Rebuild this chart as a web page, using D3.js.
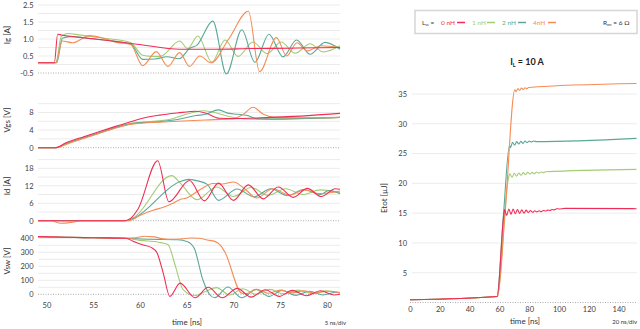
<!DOCTYPE html>
<html><head><meta charset="utf-8">
<script src="https://cdn.jsdelivr.net/npm/d3@7"></script>
<style>body{margin:0;background:#fff}svg{display:block}text{font-family:Lato,"Open Sans",sans-serif}</style>
</head><body><svg id="c" width="640" height="329"></svg>
<script>
// ---------- DATA ----------
const seriesNames = ["0 nH","1 nH","2 nH","4nH"];
const seriesColors = ["#ef2d56","#a3cc73","#5aa898","#f68c55"];

const xLeftTicks = [50,55,60,65,70,75,80];
const igTicks = [-0.5,0.5,1.0,1.5,2.5];
const igTickLabels = ["-0.5","0.5","1.0","1.5","2.5"];
const igGrid = [-0.5,0,0.5,0.75,1.0,1.25,1.5,2.0,2.5];
const vgsTicks = [0,4,8];
const vgsGrid = [2,4,6,8,10];
const idTicks = [0,6,12,18];
const idGrid = [3,6,9,12,15,18,21];
const vswTicks = [0,100,200,300,400];
const vswGrid = [50,100,150,200,250,300,350,400];
const eTicks = [5,10,15,20,25,30,35];
const eXTicks = [0,20,40,60,80,100,120,140];

// Ig [A]
const ig0 = [[49.1,0.1],[50.85,0.1],[51.2,1.14],[51.6,1.12],[55.3,1.0],[59.9,0.84],[64.25,0.70],[68,0.70],[72,0.72],[76,0.73],[81.4,0.75]];
const ig1 = [[49.1,0.1],[51.0,0.1],[51.6,1.08],[52.3,1.16],[53.5,1.12],[56,1.03],[59,0.9],[60.3,0.52],[61.2,0.48],[62.2,0.48],[64.25,0.94],[65.1,0.72],[66.2,1.09],[67.7,0.13],[69.1,0.97],[70.5,0.48],[72.1,0.91],[73.6,0.57],[75.1,0.91],[76.6,0.58],[78.2,0.86],[79.6,0.62],[81.4,0.8]];
const ig2 = [[49.1,0.1],[51.1,0.1],[51.7,1.02],[52.5,1.07],[55,1.0],[59,0.86],[60.3,0.3],[61.6,0.32],[62.9,0.46],[64.2,0.34],[65.3,0.72],[66.1,0.82],[67.8,1.55],[69.25,-0.56],[70.9,1.27],[72.3,0.13],[73.8,1.14],[75.3,0.45],[76.75,0.97],[78.2,0.55],[79.8,0.9],[81.4,0.7]];
const ig3 = [[49.1,0.1],[51.0,0.1],[51.7,0.94],[52.8,0.89],[54.6,1.1],[56,1.03],[57.5,0.9],[59,0.84],[60.3,-0.07],[61.75,0.63],[63.0,-0.11],[64.25,0.6],[65.3,-0.11],[66.4,0.5],[67.6,0.1],[69.5,1.0],[71.6,2.13],[72.8,-0.42],[74.6,1.04],[75.7,0.5],[76.8,0.89],[77.9,0.65],[79.3,0.8],[81.4,0.75]];

// Vgs [V]
const vgs0 = [[49.1,0],[50.9,0],[52.1,1.1],[54,2.5],[55.7,3.7],[57.5,4.9],[59,5.9],[60.3,6.7],[62.1,7.4],[64,7.9],[66,8.3],[67,7.9],[68.5,6.7],[70,6.6],[74,6.9],[78,7.3],[81.4,7.8]];
const vgs1 = [[49.1,0],[51.0,0],[52.1,0.9],[55.7,3.4],[59.2,5.6],[62,6.1],[63.5,6.6],[64.8,7.5],[66.8,8.4],[68.2,7.9],[69.5,7.1],[70.5,6.7],[72,6.5],[81.4,6.9]];
const vgs2 = [[49.1,0],[51.0,0],[52.1,0.9],[55.7,3.4],[59.2,5.5],[62,5.9],[64,6.4],[66,7.3],[67,7.6],[68.4,8.6],[69.5,7.8],[70.5,7.6],[71.5,7.3],[72.5,6.6],[74,6.5],[81.4,6.9]];
const vgs3 = [[49.1,0],[51.1,0],[52.2,0.8],[55.7,3.3],[59.3,5.4],[63,5.9],[67,6.3],[70,6.6],[71,7.5],[72.1,9.2],[73.2,7.6],[74.5,6.9],[77,6.8],[81.4,6.9]];

// Id [A]
const id0 = [[49.1,0],[58.3,0],[59.0,0.8],[59.8,4],[61.9,20.6],[63.1,6.5],[65.3,13.8],[66.9,6.8],[68.4,12.9],[70.0,7.0],[71.6,12.3],[73.2,7.5],[74.8,11.6],[76.4,8.0],[77.9,11.1],[79.4,8.3],[80.9,11.0],[81.4,10.8]];
const id1 = [[49.1,0],[58.5,0],[59.3,1],[63.4,15.5],[64.3,13],[66.1,7.2],[68.2,11.6],[70.0,8.3],[71.9,11.4],[73.7,8.7],[75.6,11],[77.4,9.0],[79.3,10.6],[81.4,9.6]];
const id2 = [[49.1,0],[58.5,0],[59.3,0.8],[64.25,13.4],[65.2,14.2],[66.3,13.6],[67.2,12.5],[68.4,7.0],[70.4,10.9],[72.2,8.2],[74.0,11.0],[75.8,8.6],[77.5,10.7],[79.3,9.0],[80.2,10.4],[81.4,9.3]];
const id3 = [[49.1,0],[50.5,0],[51.5,-0.9],[52.8,-0.5],[53.8,0],[58.8,0],[60,1.8],[61.4,3.6],[62.5,4.6],[63.4,5.8],[64.3,7.3],[65,7.8],[66.5,10.8],[67.8,12.8],[68.8,12.6],[70,13.3],[71.2,11],[72.5,7.8],[74.2,11],[76,8.8],[77.6,10.6],[79.2,9.3],[81.4,10.2]];

// Vsw [V]
const vsw0 = [[49.1,412],[52,408],[55,404],[58.5,400],[59.3,378],[60.2,355],[61.2,335],[61.8,300],[62.5,150],[63.2,-15],[64.3,80],[65.9,-25],[67.3,50],[68.8,-25],[70.4,42],[71.9,-20],[73.4,33],[74.9,-15],[76.3,28],[77.8,-10],[79.3,25],[80.8,-5],[81.4,0]];
const vsw1 = [[49.1,412],[52,408],[55,404],[58.5,400],[60,385],[62,372],[63,355],[63.8,200],[64.6,35],[65.9,-10],[67,20],[68.2,48],[69.6,-5],[71.0,40],[72.4,0],[73.9,35],[75.4,3],[76.9,30],[78.4,5],[79.9,25],[81.4,10]];
const vsw2 = [[49.1,412],[52,408],[55,404],[58.5,400],[61,393],[64,390],[65.1,376],[65.8,330],[66.75,100],[67.5,-5],[68,-25],[69.4,52],[70.9,-25],[72.4,35],[73.8,-15],[75.2,28],[76.7,-8],[78.1,22],[79.6,-5],[81.0,15],[81.4,12]];
const vsw3 = [[49.1,412],[52,408],[55,404],[58.5,400],[59.5,403],[60.5,415],[61.5,410],[62.5,396],[63.5,392],[64.5,396],[65.5,402],[66.3,400],[67.2,388],[68,378],[68.6,352],[69.1,300],[70.9,8],[71.4,5],[72.5,35],[73.7,8],[75,30],[76.3,10],[77.5,25],[78.7,8],[80,22],[81.4,12]];

// Etot [uJ]
const e0 = [[0,0.45],[58.5,1.0],[62.8,14.4],[63.5,15.6],[64.9,14.6],[66.3,15.7],[67.8,14.8],[69.2,15.7],[70.7,14.9],[72.1,15.6],[73.6,14.95],[75.0,15.55],[76.5,15.0],[77.9,15.5],[79.4,15.1],[80.8,15.45],[82.3,15.15],[83.7,15.4],[85.2,15.2],[86.6,15.4],[88.1,15.25],[89.5,15.45],[91,15.35],[92.4,15.5],[93.9,15.45],[95.3,15.6],[96.8,15.55],[98.5,15.75],[100,15.7],[104,15.8],[152,15.75]];
const e1 = [[0,0.45],[58.4,1.0],[66.0,20.8],[67.0,21.6],[68.5,21.0],[70,21.7],[71.5,21.2],[73,21.75],[74.5,21.35],[76,21.8],[77.5,21.45],[79,21.85],[80.5,21.55],[82,21.85],[83.5,21.6],[85,21.9],[86.5,21.7],[88,21.9],[89.5,21.8],[91,21.95],[152,22.35]];
const e2 = [[0,0.45],[58.3,1.0],[62.7,14.7],[66.8,26.4],[67.5,26.0],[68.8,26.9],[70.2,26.4],[71.6,27.0],[73,26.6],[74.4,27.05],[75.8,26.7],[77.2,27.1],[78.6,26.85],[80,27.1],[81.4,26.95],[83,27.1],[85,27.0],[152,27.55]];
const e3 = [[0,0.45],[58.8,1.0],[63.8,15],[70.4,35.7],[71.2,35.4],[72.4,35.9],[73.6,35.6],[74.8,36.0],[76,35.75],[77.2,36.05],[78.4,35.9],[79.6,36.1],[152,36.75]];

// ---------- DRAW ----------
const svg = d3.select("#c");
const tickCol = "#404040", gridCol = "#ececec";
const x = d3.scaleLinear().domain([49.1,81.4]).range([38,340]);

const panels = [
  {label:"Ig [A]", lc:35, y:d3.scaleLinear().domain(igTicks).range(igTicks.map((d,i)=>73-i*17)), ticks:igTicks, tl:igTickLabels, grid:igGrid, zero:-0.5, data:[ig1,ig2,ig3,ig0]},
  {label:"Vgs [V]", lc:120, y:d3.scaleLinear().domain([0,10]).range([147.7,103.7]), ticks:vgsTicks, grid:vgsGrid, zero:0, data:[vgs1,vgs2,vgs3,vgs0]},
  {label:"Id [A]", lc:186, y:d3.scaleLinear().domain([0,21]).range([220.7,159.6]), ticks:idTicks, grid:idGrid, zero:0, data:[id1,id2,id3,id0]},
  {label:"Vsw [V]", lc:261, y:d3.scaleLinear().domain([0,450]).range([294.3,231.3]), ticks:vswTicks, grid:vswGrid, zero:0, data:[vsw1,vsw2,vsw3,vsw0]}
];
const order = [1,2,3,0];

panels.forEach(p=>{
  const g = svg.append("g");
  g.selectAll("line.grid").data(p.grid.filter(v=>v!==p.zero)).join("line")
    .attr("x1",38).attr("x2",340).attr("y1",d=>p.y(d)).attr("y2",d=>p.y(d))
    .attr("stroke",gridCol).attr("stroke-width",1);
  g.append("line").attr("x1",38).attr("x2",340).attr("y1",p.y(p.zero)).attr("y2",p.y(p.zero))
    .attr("stroke","#9a9a9a").attr("stroke-width",0.8).attr("stroke-dasharray","1,1.5");
  const ax = d3.axisLeft(p.y).tickValues(p.ticks).tickSize(0).tickPadding(0)
    .tickFormat((d,i)=>p.tl?p.tl[i]:d);
  const a = g.append("g").attr("transform","translate(33.5,0)").call(ax);
  a.select(".domain").remove();
  a.selectAll("text").attr("fill",tickCol).style("font-size","7.5px").attr("x",0);
  g.append("text").attr("transform",`translate(10,${p.lc}) rotate(-90)`).attr("text-anchor","middle")
    .attr("fill","#333").style("font-size","8px").text(p.label);
  const line = d3.line().x(d=>x(d[0])).y(d=>p.y(d[1])).curve(d3.curveMonotoneX);
  p.data.forEach((s,i)=>{
    g.append("path").attr("d",line(s)).attr("fill","none")
      .attr("stroke",seriesColors[order[i]]).attr("stroke-width",1.1);
  });
});
// left x axis
const xa = svg.append("g").attr("transform","translate(0,303)")
  .call(d3.axisBottom(x).tickValues(xLeftTicks).tickSize(0).tickPadding(0));
xa.select(".domain").remove();
xa.selectAll("text").attr("fill",tickCol).style("font-size","7.5px");
svg.append("text").attr("x",187).attr("y",325).attr("text-anchor","middle").attr("fill","#333").style("font-size","8px").text("time [ns]");
svg.append("text").attr("x",346).attr("y",325).attr("text-anchor","end").attr("fill","#333").style("font-size","6px").text("5 ns/div");

// ---------- right chart ----------
const xr = d3.scaleLinear().domain([0,152]).range([410,636.5]);
const yr = d3.scaleLinear().domain([0,35]).range([302.5,94]);
const gr = svg.append("g");
gr.selectAll("line.g").data(eTicks).join("line")
  .attr("x1",412).attr("x2",637).attr("y1",d=>yr(d)).attr("y2",d=>yr(d))
  .attr("stroke",gridCol).attr("stroke-width",1);
gr.append("line").attr("x1",410).attr("x2",637).attr("y1",yr(0)).attr("y2",yr(0))
  .attr("stroke","#9a9a9a").attr("stroke-width",0.8).attr("stroke-dasharray","1,1.5");
const ya = gr.append("g").attr("transform","translate(407,0)").call(d3.axisLeft(yr).tickValues(eTicks).tickSize(0).tickPadding(0));
ya.select(".domain").remove();
ya.selectAll("text").attr("fill",tickCol).style("font-size","7.5px");
const xra = gr.append("g").attr("transform","translate(0,307)").call(d3.axisBottom(xr).tickValues(eXTicks).tickSize(0).tickPadding(0));
xra.select(".domain").remove();
xra.selectAll("text").attr("fill",tickCol).style("font-size","7.5px");
gr.append("text").attr("transform","translate(387,198) rotate(-90)").attr("text-anchor","middle").attr("fill","#333").style("font-size","8px").text("Etot [µJ]");
gr.append("text").attr("x",525).attr("y",324).attr("text-anchor","middle").attr("fill","#333").style("font-size","8px").text("time [ns]");
gr.append("text").attr("x",637).attr("y",324).attr("text-anchor","end").attr("fill","#333").style("font-size","6px").text("20 ns/div");
const lr = d3.line().x(d=>xr(d[0])).y(d=>yr(d[1])).curve(d3.curveMonotoneX);
[e1,e2,e3,e0].forEach((s,i)=>{
  gr.append("path").attr("d",lr(s)).attr("fill","none").attr("stroke",seriesColors[order[i]]).attr("stroke-width",1.1);
});
// title
const tt = gr.append("text").attr("x",527).attr("y",65).attr("text-anchor","middle").attr("fill","#222").style("font-size","9px").style("font-weight","bold");
tt.append("tspan").text("I");
tt.append("tspan").attr("dy",2).style("font-size","5.5px").text("L");
tt.append("tspan").attr("dy",-2).text(" = 10 A");

// legend
const lg = svg.append("g");
lg.append("rect").attr("x",415).attr("y",10.5).attr("width",222).attr("height",23).attr("fill","#fff").attr("stroke","#d6d6d6").attr("stroke-width",1.5);
const lt = lg.append("text").attr("x",422).attr("y",24.5).attr("fill","#333").style("font-size","6.5px");
lt.append("tspan").text("L");
lt.append("tspan").attr("dy",1.5).style("font-size","4px").text("ss");
lt.append("tspan").attr("dy",-1.5).text(" =");
const legX = [441,472,502,533];
const dashX = [457,487,518,548];
seriesNames.forEach((n,i)=>{
  lg.append("text").attr("x",legX[i]).attr("y",24.5).attr("fill",seriesColors[i]).style("font-size","6.5px").text(n);
  lg.append("line").attr("x1",dashX[i]).attr("x2",dashX[i]+8).attr("y1",22.5).attr("y2",22.5).attr("stroke",seriesColors[i]).attr("stroke-width",1.5);
});
const rt = lg.append("text").attr("x",603).attr("y",24.5).attr("fill","#333").style("font-size","6.5px");
rt.append("tspan").text("R");
rt.append("tspan").attr("dy",1.5).style("font-size","4px").text("on");
rt.append("tspan").attr("dy",-1.5).text(" = 6 Ω");
</script></body></html>
